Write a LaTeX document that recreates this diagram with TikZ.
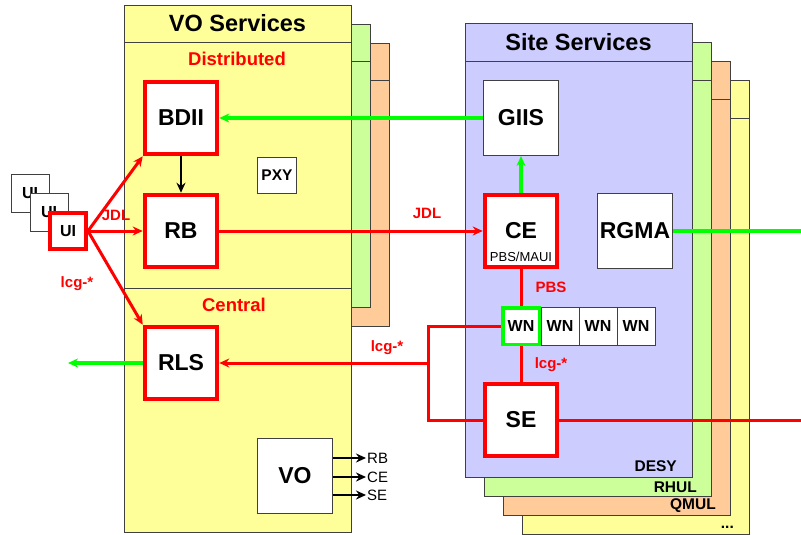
\documentclass[tikz,border=0pt]{standalone}
\usepackage{fontspec}
\setmainfont{Liberation Sans}
\usetikzlibrary{arrows.meta}

\definecolor{voyellow}{HTML}{FFFF99}
\definecolor{vogreen}{HTML}{CCFF99}
\definecolor{voorange}{HTML}{FFCC99}
\definecolor{sitelilac}{HTML}{CCCCFF}
\definecolor{edgegray}{HTML}{404040}
\definecolor{linered}{HTML}{FF0000}
\definecolor{linegreen}{HTML}{00FF00}

\newcommand{\fsz}[1]{\fontsize{#1}{#1}\selectfont}

\begin{document}
\begin{tikzpicture}[x=1pt, y=-1pt, >={Stealth[length=10pt,width=9pt]},
    frame/.style={draw=edgegray, line width=0.9pt},
    redbox/.style={draw=linered, line width=4pt, fill=white, inner sep=0pt,
      minimum width=72.5pt, minimum height=72.5pt, font=\bfseries\fsz{23}},
    graybox/.style={draw=edgegray, line width=1pt, fill=white, inner sep=0pt,
      font=\bfseries\fsz{23}},
    lbl/.style={text=linered, font=\bfseries\fsz{15}},
    sitename/.style={anchor=east, inner sep=0pt, font=\bfseries\fsz{15.5}},
    redline/.style={draw=linered, line width=3pt},
    redarrow/.style={redline, ->},
    grnline/.style={draw=linegreen, line width=3.2pt},
    grnarrow/.style={grnline, ->},
    blkarrow/.style={draw=black, line width=2pt, ->}
  ]
    \useasboundingbox (0,0) rectangle (801,535);

    % site service stack (back to front)
    \foreach \off/\col in {57/voyellow, 38/voorange, 19/vogreen, 0/sitelilac} {
      \draw[frame, fill=\col] (465+\off,23+\off) rectangle (692+\off,477+\off);
      \draw[frame] (465+\off,61+\off) -- (692+\off,61+\off);
    }
    \node[sitename] (desy) at (677,466.5) {DESY};
    \node[sitename] (rhul) at (697,487) {RHUL};
    \node[sitename] (qmul) at (716,506) {QMUL};
    \node[sitename] (more) at (734,527) {...};
    \node[font=\bfseries\fsz{23.5}] (sitetitle) at (578.5,42.5) {Site Services};

    % VO service stack
    \foreach \off/\col in {38/voorange, 19/vogreen} {
      \draw[frame, fill=\col] (124+\off,5+\off) rectangle (351+\off,288+\off);
      \draw[frame] (124+\off,42+\off) -- (351+\off,42+\off);
    }
    \draw[frame, fill=voyellow] (124,5) rectangle (351,532);
    \draw[frame] (124,42) -- (351,42);
    \draw[frame] (124,288) -- (351,288);
    \node[font=\bfseries\fsz{23.5}] (votitle) at (237.5,23.5) {VO Services};
    \node[lbl, font=\bfseries\fsz{18.5}] (distrib) at (237,58.5) {Distributed};
    \node[lbl, font=\bfseries\fsz{18.5}] (central) at (234,305) {Central};

    % VO nodes
    \node[redbox] (bdii) at (181,118) {BDII};
    \node[redbox] (rb)   at (181,231) {RB};
    \node[redbox] (rls)  at (181,363) {RLS};
    \node[graybox, minimum width=39pt, minimum height=36pt, font=\bfseries\fsz{15.5}] (pxy) at (277,175) {PXY};
    \node[graybox, minimum width=75pt, minimum height=75pt] (vo) at (295,476) {VO};

    % VO outputs
    \node[anchor=west, inner sep=1pt, font=\fsz{15}] (rbout) at (366,458) {RB};
    \node[anchor=west, inner sep=1pt, font=\fsz{15}] (ceout) at (366,477) {CE};
    \node[anchor=west, inner sep=1pt, font=\fsz{15}] (seout) at (366,495) {SE};
    \draw[blkarrow] (vo.east |- rbout.west) -- (rbout.west);
    \draw[blkarrow] (vo.east |- ceout.west) -- (ceout.west);
    \draw[blkarrow] (vo.east |- seout.west) -- (seout.west);

    % user interfaces
    \node[graybox, minimum size=38pt, font=\bfseries\fsz{16}] (ui3) at (30,193) {UI};
    \node[graybox, minimum size=38pt, font=\bfseries\fsz{16}] (ui2) at (49,212) {UI};
    \node[redbox, minimum size=36pt, font=\bfseries\fsz{16}] (ui) at (68,231) {UI};

    % site nodes
    \node[graybox, minimum width=75pt, minimum height=75pt] (giis) at (521,118) {GIIS};
    \node[redbox] (ce) at (521,231) {CE};
    \node[font=\fsz{13}, inner sep=0pt] (cesched) at (521,257) {PBS/MAUI};
    \node[graybox, minimum width=75pt, minimum height=75pt] (rgma) at (635,231) {RGMA};
    \node[graybox, minimum size=38pt, font=\bfseries\fsz{16}] (wn2) at (560,326) {WN};
    \node[graybox, minimum size=38pt, font=\bfseries\fsz{16}] (wn3) at (598,326) {WN};
    \node[graybox, minimum size=38pt, font=\bfseries\fsz{16}] (wn4) at (636,326) {WN};
    \node[graybox, draw=linegreen, line width=3.5pt, minimum size=36.5pt, font=\bfseries\fsz{16}] (wn1) at (521,326) {WN};
    \node[redbox] (se) at (521,420) {SE};

    % free ends
    \coordinate (rgmaend) at (801,231);
    \coordinate (seend) at (801,420);
    \coordinate (rlsend) at (68,363);
    \coordinate (bustop) at (428,326);
    \coordinate (busmid) at (428,363);
    \coordinate (busbot) at (428,420);

    % job flow
    \draw[redarrow] (ui.east) -- (bdii.south west);
    \draw[redarrow] (ui.east) -- (rb.west);
    \draw[redarrow] (ui.east) -- (rls.north west);
    \node[lbl] (jdlui) at (116,215) {JDL};
    \node[lbl] (lcgui) at (77,284) {lcg-*};
    \draw[blkarrow] (bdii) -- (rb);
    \draw[redarrow] (rb) -- (ce);
    \node[lbl] (jdlce) at (427,213) {JDL};

    % information flow
    \draw[grnarrow] (ce) -- (giis);
    \draw[grnarrow] (giis) -- (bdii);
    \draw[grnline] (rgma.east) -- (rgmaend);
    \draw[grnarrow] (rls.west) -- (rlsend);

    % site internals
    \draw[redline] (ce) -- (wn1);
    \node[lbl] (pbs) at (551,287.5) {PBS};
    \draw[redline] (wn1) -- (se);
    \node[lbl] (lcgse) at (551,365) {lcg-*};
    \draw[redline] (wn1.west) -- (bustop) -- (busbot) -- (se.west);
    \draw[redarrow] (busmid) -- (rls.east);
    \node[lbl] (lcgrls) at (387,348) {lcg-*};
    \draw[redline] (se.east) -- (seend);
  \end{tikzpicture}
\end{document}
